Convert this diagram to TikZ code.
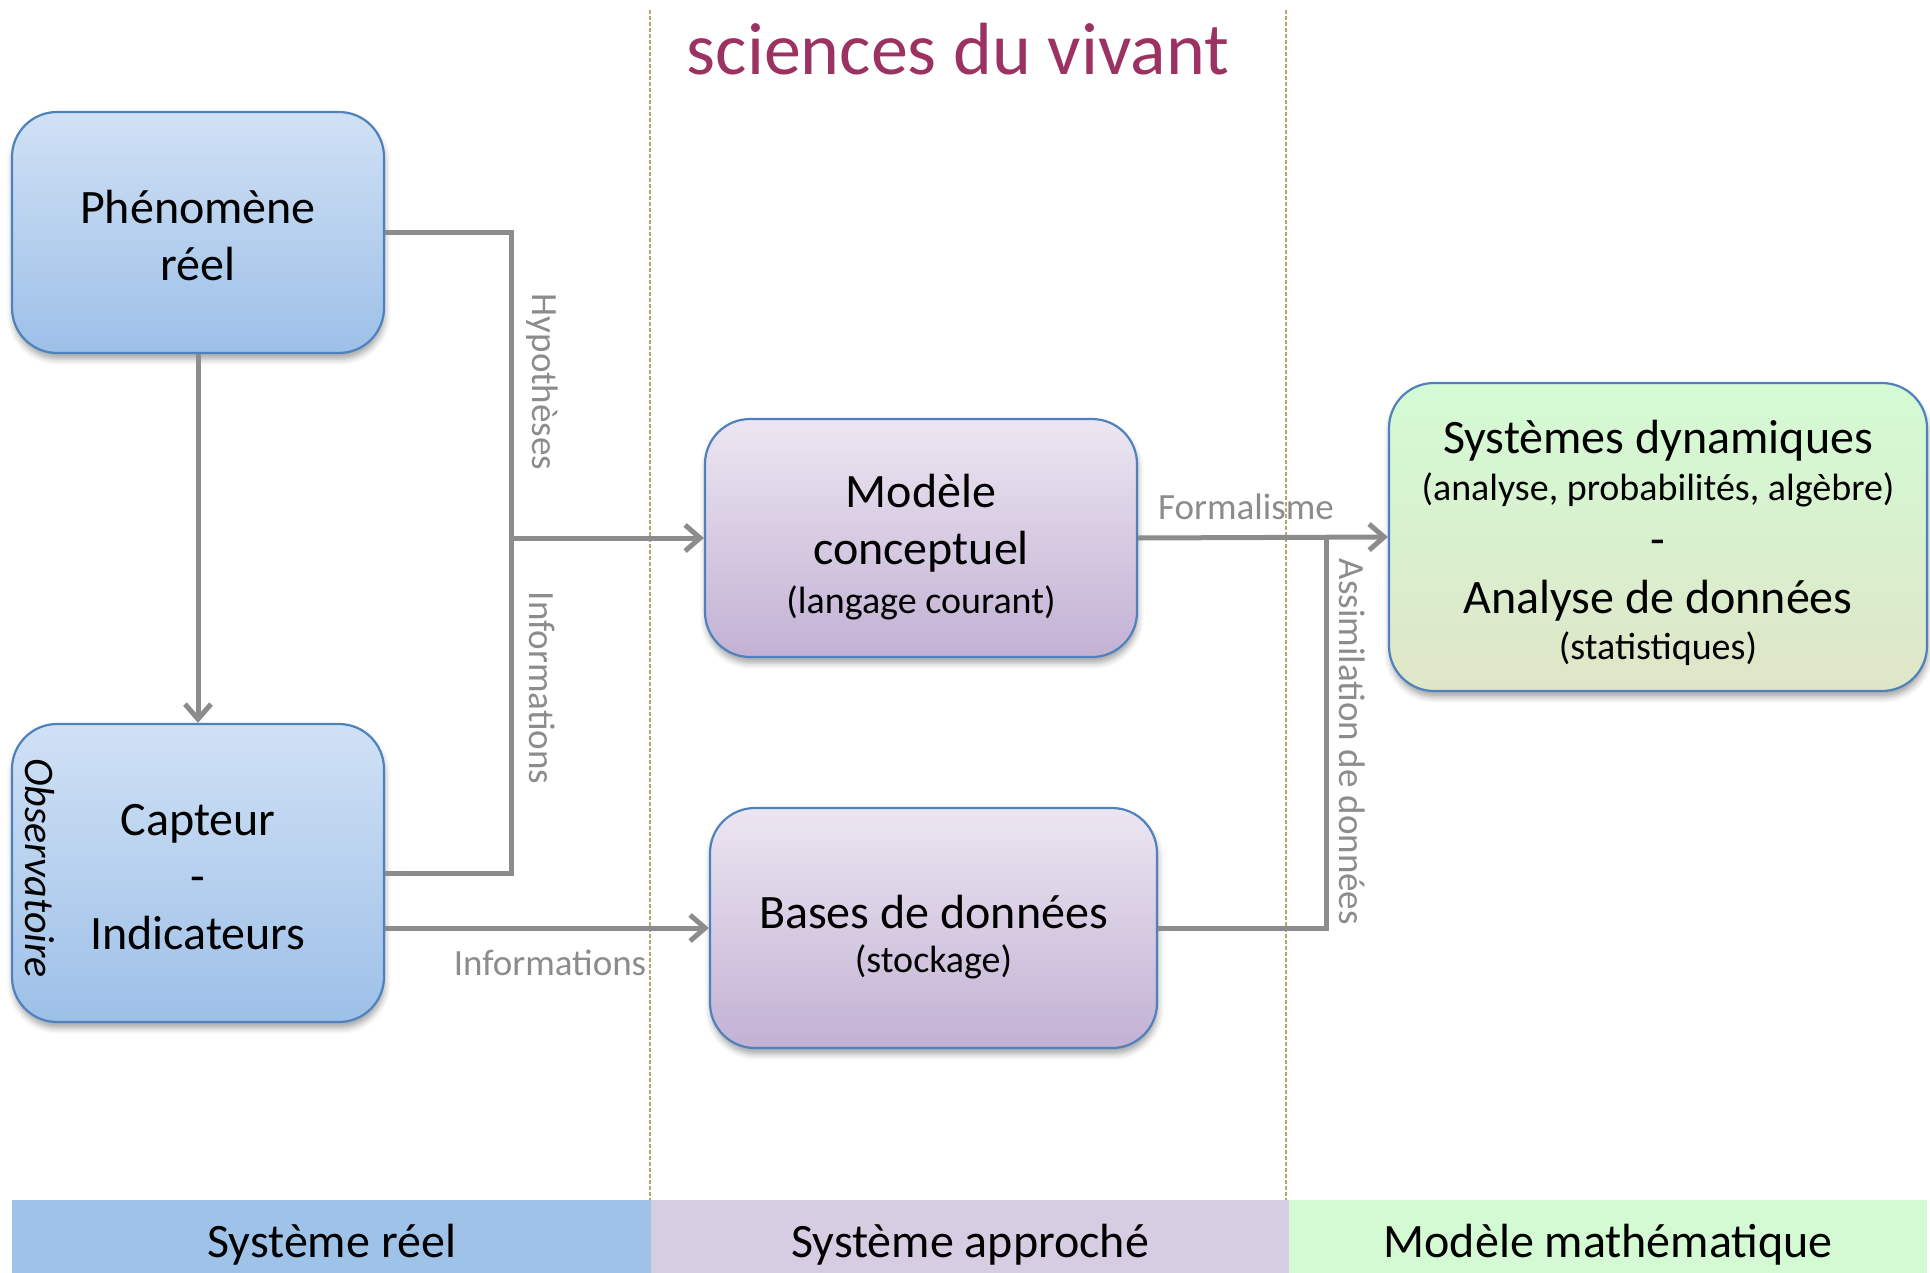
\documentclass[tikz,border=0pt]{standalone}
\usepackage{fontspec}
\setmainfont{Carlito}
\usetikzlibrary{arrows.meta,shadows.blur}
\definecolor{boxblueline}{HTML}{4F81BD}
\definecolor{bluetop}{HTML}{D0E1F5}
\definecolor{bluebot}{HTML}{9DC0E8}
\definecolor{purtop}{HTML}{ECE6F1}
\definecolor{purbot}{HTML}{C3B1D4}
\definecolor{grntop}{HTML}{D3FBD4}
\definecolor{grnbot}{HTML}{DFE6C8}
\definecolor{barblue}{HTML}{9EC2E8}
\definecolor{barpur}{HTML}{D7CDE2}
\definecolor{bargrn}{HTML}{D4FAD4}
\definecolor{conncol}{HTML}{8C8C8C}
\definecolor{titlecol}{HTML}{9B3262}
\definecolor{sepcol}{HTML}{B8A478}
\begin{document}
\begin{tikzpicture}[x=1pt,y=-1pt,
  roundbox/.style={draw=boxblueline, line width=2.2pt, rounded corners=45pt, inner sep=0pt,
    blur shadow={shadow xshift=1pt, shadow yshift=-6pt, shadow blur radius=6pt, shadow opacity=35}},
  bluebox/.style={roundbox, top color=bluetop, bottom color=bluebot},
  purbox/.style={roundbox, top color=purtop, bottom color=purbot},
  grnbox/.style={roundbox, top color=grntop, bottom color=grnbot},
  boxtext/.style={align=center, text=black, inner sep=0pt, font=\fontsize{48}{57}\selectfont},
  conn/.style={draw=conncol, line width=5pt},
  arr/.style={conn, -{Straight Barb[length=15pt,width=26pt]}},
  glabel/.style={text=conncol, font=\fontsize{37}{44}\selectfont, inner sep=0pt},
  barcell/.style={minimum height=73pt, inner sep=0pt, anchor=north west},
  bartext/.style={inner sep=0pt, font=\fontsize{48}{57}\selectfont},
  sep/.style={draw=sepcol, line width=1.2pt, dash pattern=on 4pt off 2pt}
]
\useasboundingbox (0,0) rectangle (1930,1273);

% separators
\draw[sep] (650,10) -- (650,1200);
\draw[sep] (1286,10) -- (1286,1200);

% title
\node[text=titlecol, font=\fontsize{74}{80}\selectfont, inner sep=0pt] (title) at (958,49) {sciences du vivant};

% boxes
\node[bluebox, minimum width=372pt, minimum height=241pt] (phen) at (198,232.5) {};
\node[bluebox, minimum width=372pt, minimum height=298pt] (capt) at (198,873) {};
\node[purbox, minimum width=432pt, minimum height=238pt] (mod) at (921,538) {};
\node[purbox, minimum width=447pt, minimum height=240pt] (bases) at (933.5,928) {};
\node[grnbox, minimum width=538pt, minimum height=308pt] (sys) at (1658,537) {};

% box texts
\node[boxtext] (phentext) at ([yshift=-3pt]phen.center) {Phénomène\\réel};
\node[boxtext] (capttext) at ([yshift=-4pt]capt.center) {Capteur\\-\\Indicateurs};
\node[boxtext] (modtext) at ([yshift=-9pt]mod.center)
  {Modèle\\conceptuel\\[-8.5pt]{\fontsize{38}{45}\selectfont (langage courant)}};
\node[boxtext] (basestext) at ([yshift=-9pt]bases.center)
  {Bases de données\\[-12.5pt]{\fontsize{38}{45}\selectfont (stockage)}};
\node[boxtext] (systext) at ([yshift=-6pt]sys.center)
  {Systèmes dynamiques\\[-10.5pt]{\fontsize{38}{45}\selectfont (analyse, probabilités, algèbre)}\\[-1.5pt]-\\[1pt]Analyse de données\\[-11.5pt]{\fontsize{38}{45}\selectfont (statistiques)}};

\node[rotate=-90, font=\fontsize{42}{50}\selectfont\itshape, inner sep=0pt] (obs) at (40,868) {Observatoire};

% connectors
\coordinate (jx) at (511,538);
\coordinate (jy) at (1326,537);
\draw[conn] (phen.east) -| (jx) |- (capt.east);
\draw[arr] (jx) -- (mod.west);
\draw[arr] (phen.south) -- (capt.north);
\draw[arr] (capt.east |- bases.west) -- (bases.west);
\draw[arr] (mod.east) -- (sys.west);
\draw[conn] (bases.east) -| (jy);

% labels
\node[glabel, rotate=-90] (hyp) at (542,382) {Hypothèses};
\node[glabel, rotate=-90] (info1) at (542,688) {Informations};
\node[glabel] (info2) at (550,963) {Informations};
\node[glabel] (form) at (1246,507) {Formalisme};
\node[glabel, rotate=-90] (assim) at (1352,742) {Assimilation de données};

% bottom bar
\node[barcell, fill=barblue, minimum width=639pt] (bar1) at (12,1200) {};
\node[barcell, fill=barpur, minimum width=638pt] (bar2) at (651,1200) {};
\node[barcell, fill=bargrn, minimum width=638pt] (bar3) at (1289,1200) {};
\node[bartext] (bar1text) at ([yshift=-8pt]bar1.center) {Système réel};
\node[bartext] (bar2text) at ([yshift=-8pt]bar2.center) {Système approché};
\node[bartext] (bar3text) at ([yshift=-8pt]bar3.center) {Modèle mathématique};
\end{tikzpicture}
\end{document}
